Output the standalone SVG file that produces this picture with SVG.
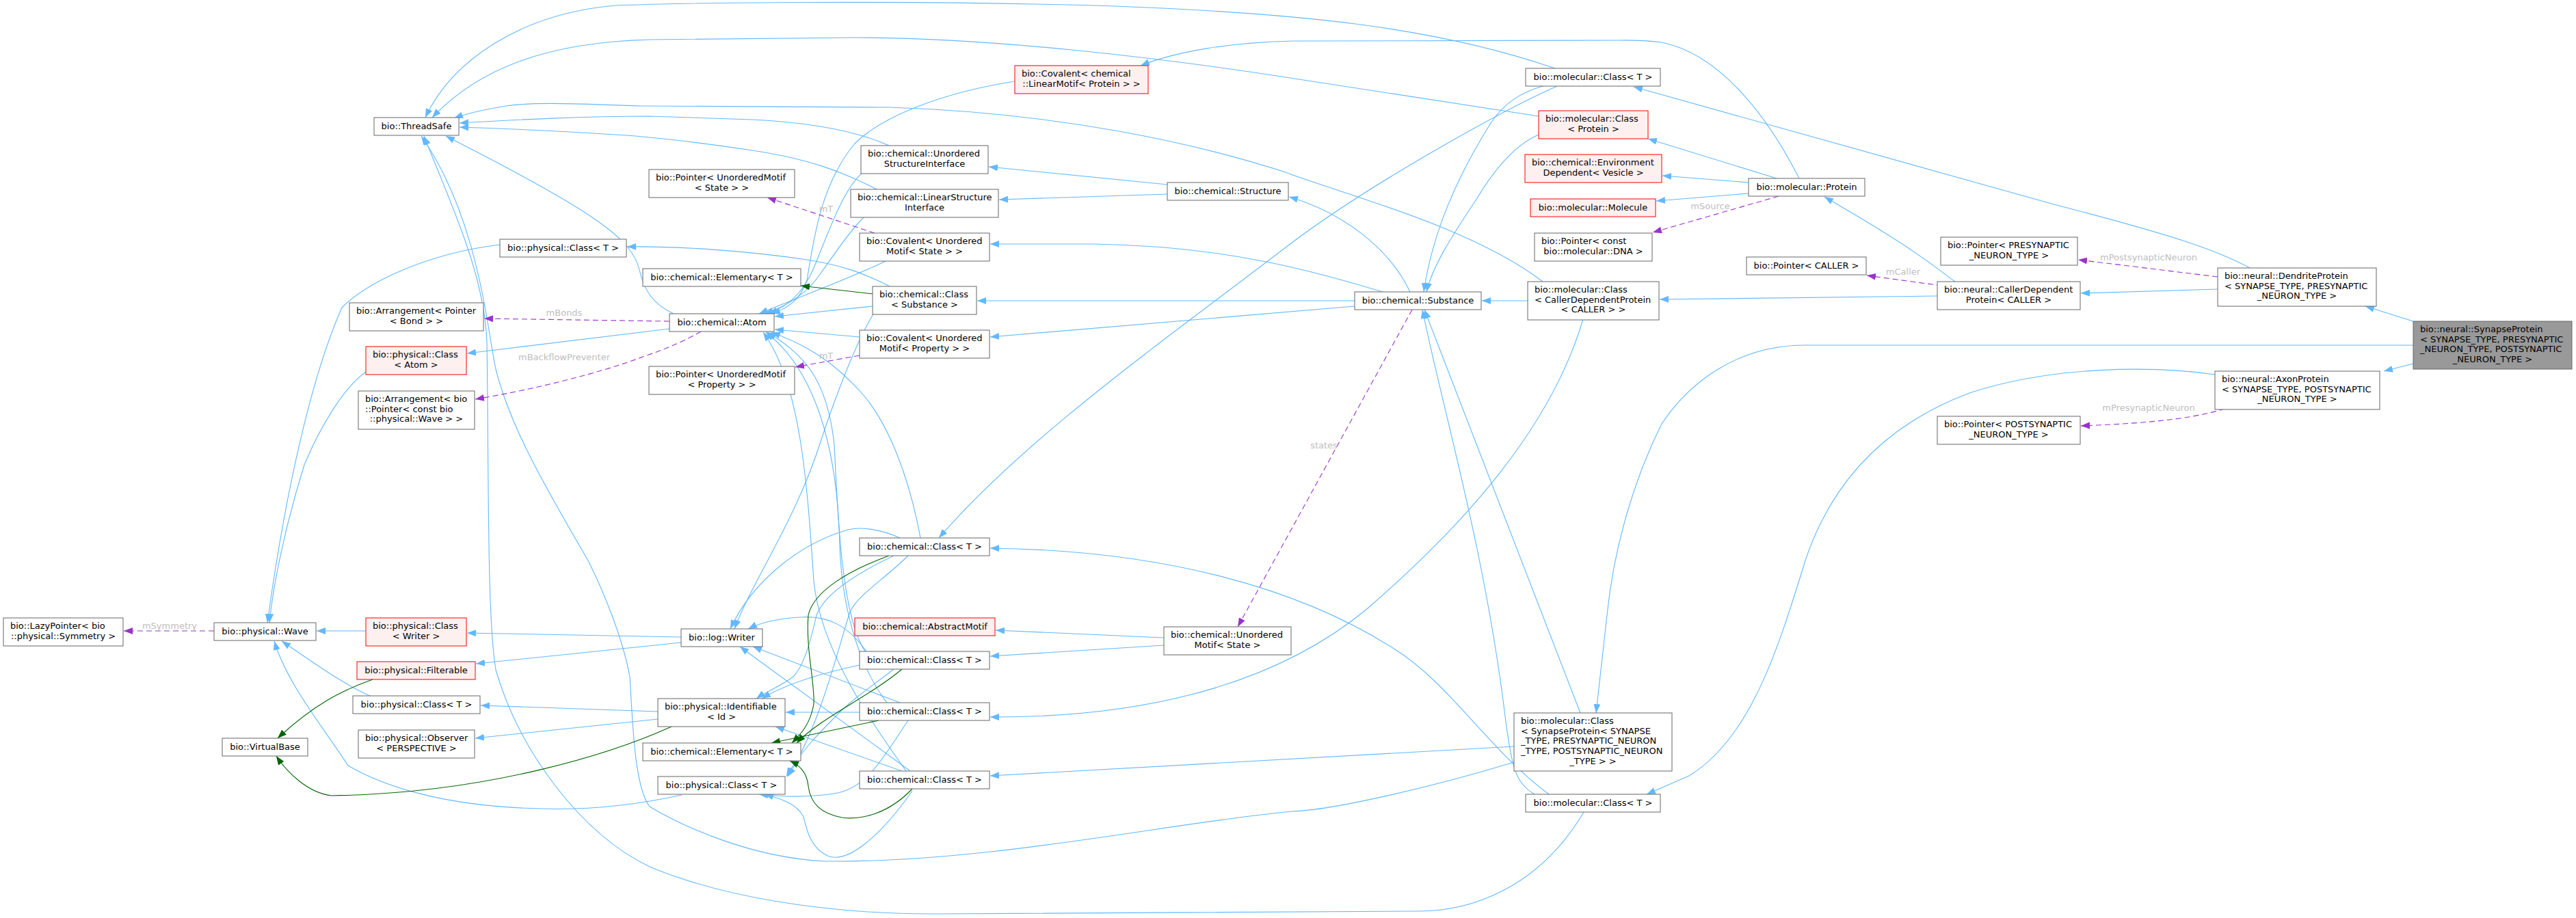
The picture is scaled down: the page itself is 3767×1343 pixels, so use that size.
<svg xmlns="http://www.w3.org/2000/svg" width="3767" height="1343" viewBox="0 0 3767 1343">
<style>
.n rect{fill:#fff;stroke:#666;stroke-width:1}
.r rect{fill:#fff0f0;stroke:#ff0000;stroke-width:1}
.g rect{fill:#999;stroke:#666;stroke-width:1}
text{font-family:"DejaVu Sans",sans-serif;font-size:13px;fill:#000}
.c{text-anchor:middle}
.eb{fill:none;stroke:#63b8ff;stroke-width:1.1;marker-end:url(#ab)}
.eg{fill:none;stroke:#006400;stroke-width:1.1;marker-end:url(#ag)}
.ep{fill:none;stroke:#9a32cd;stroke-width:1.1;stroke-dasharray:8,5;marker-end:url(#ap)}
.lb{fill:#bebebe;text-anchor:middle}
</style>
<defs>
<marker id="ab" markerUnits="userSpaceOnUse" markerWidth="14" markerHeight="10" refX="13" refY="5" orient="auto"><path d="M0,0 L13,5 L0,10 z" fill="#63b8ff"/></marker>
<marker id="ag" markerUnits="userSpaceOnUse" markerWidth="14" markerHeight="10" refX="13" refY="5" orient="auto"><path d="M0,0 L13,5 L0,10 z" fill="#006400"/></marker>
<marker id="ap" markerUnits="userSpaceOnUse" markerWidth="14" markerHeight="10" refX="13" refY="5" orient="auto"><path d="M0,0 L13,5 L0,10 z" fill="#9a32cd"/></marker>
</defs>
<rect width="3767" height="1343" fill="#fff"/>
<g id="edges">
<path class="eb" d="M2274,100 C2100,40 1900,18 1600,8 C1300,0 1000,4 900,8 C760,20 660,90 622,172"/>
<path class="eb" d="M2250,170 L1880,113 C1700,85 1450,55 1250,55 L950,58 C800,62 700,100 632,172"/>
<path class="eb" d="M2256,412 C2150,330 1950,280 1880,252 C1750,210 1550,165 1300,157 L940,155 C860,153 790,148 740,155 C710,160 685,165 664,173"/>
<path class="eb" d="M1300,213 C1260,195 1200,180 1100,175 L950,170 C850,170 760,175 672,180"/>
<path class="eb" d="M1282,277 C1230,250 1180,232 1100,220 C1020,208 950,200 900,197 C820,192 740,188 672,186"/>
<path class="eb" d="M985,459 C955,445 942,425 935,395 C925,350 870,310 652,199"/>
<path class="eb" d="M2316,1188 C2250,1300 2150,1333 2074,1333 L1364,1337 C1200,1337 1050,1310 950,1268 C850,1220 760,1100 725,980 C712,900 715,700 712,500 C708,400 660,300 620,199"/>
<path class="eb" d="M2214,1115 C2100,1150 1950,1185 1890,1187 C1700,1205 1450,1262 1207,1260 C1100,1255 1000,1210 950,1180 C927,1150 925,1050 921,990 C910,930 880,860 860,820 C790,700 745,620 725,540 C712,480 700,320 616,199"/>
<path class="eb" d="M2277,126 C2200,160 2000,270 1880,362 C1700,500 1500,640 1373,787"/>
<path class="eb" d="M2256,126 C2225,135 2200,150 2180,180 C2130,260 2095,340 2082,427"/>
<path class="eb" d="M2250,197 C2220,210 2190,240 2160,290 C2120,350 2095,390 2086,427"/>
<path class="eb" d="M2598,261 L2410,203"/>
<path class="eb" d="M2557,267 L2431,257"/>
<path class="eb" d="M2557,283 L2422,294"/>
<path class="eb" d="M2631,261 C2590,180 2520,80 2430,62 C2400,58 2380,59 2360,59 L1890,60 C1800,62 1720,75 1668,96"/>
<path class="eb" d="M2859,412 C2835,395 2810,370 2668,288"/>
<path class="eb" d="M2833,433 L2427,438"/>
<path class="eb" d="M3243,423 L3043,429"/>
<path class="eb" d="M3290,392 C3240,365 3180,345 3000,298 L2389,127"/>
<path class="eb" d="M3529,470 L3459,448"/>
<path class="eb" d="M3529,532 L3486,543"/>
<path class="eb" d="M3529,505 L2640,505 C2540,505 2470,560 2430,620 C2390,700 2360,800 2350,900 L2334,1043"/>
<path class="eb" d="M3239,548 C3150,535 3000,535 2880,575 C2760,620 2680,700 2640,820 C2600,950 2560,1080 2470,1135 L2408,1162"/>
<path class="eb" d="M2234,440 L2167,440"/>
<path class="eb" d="M2315,467 C2270,620 2150,760 2000,890 C1880,990 1700,1050 1448,1049"/>
<path class="eb" d="M2062,427 C2030,360 1960,310 1885,288"/>
<path class="eb" d="M2022,427 C1930,400 1800,360 1600,357 L1448,357"/>
<path class="eb" d="M1981,440 L1429,440"/>
<path class="eb" d="M1981,448 L1448,493"/>
<path class="eb" d="M2244,1162 C2215,1145 2210,1120 2200,1040 C2170,800 2110,600 2080,453"/>
<path class="eb" d="M2311,1043 L2083,453"/>
<path class="eb" d="M2265,1162 C2180,1100 2120,1000 2040,950 C1900,860 1700,805 1448,802"/>
<path class="eb" d="M2214,1092 L1448,1135"/>
<path class="eb" d="M1702,933 L1456,922"/>
<path class="eb" d="M1702,944 L1448,960"/>
<path class="eb" d="M1707,270 L1446,244"/>
<path class="eb" d="M1707,284 L1461,292"/>
<path class="eb" d="M979,481 L683,517"/>
<path class="eb" d="M731,358 C630,370 540,410 500,450 C460,540 420,700 391,911"/>
<path class="eb" d="M535,544 C505,565 470,620 445,680 C420,760 400,850 394,911"/>
<path class="eb" d="M535,923 L463,923"/>
<path class="eb" d="M541,1018 C500,1000 460,970 412,938"/>
<path class="eb" d="M997,1163 C920,1180 850,1185 790,1183 C650,1180 560,1150 509,1120 C470,1060 420,1000 401,938"/>
<path class="eb" d="M996,932 L683,926"/>
<path class="eb" d="M996,940 L696,971"/>
<path class="eb" d="M962,1041 L703,1032"/>
<path class="eb" d="M962,1052 L695,1080"/>
<path class="eb" d="M1301,419 C1260,398 1230,388 1180,380 C1100,368 1000,360 917,361"/>
<path class="eb" d="M1276,448 L1133,463"/>
<path class="eb" d="M1257,493 L1133,482"/>
<path class="eb" d="M1484,119 C1380,135 1290,170 1250,210 C1200,270 1190,350 1180,410 C1170,440 1150,452 1128,459"/>
<path class="eb" d="M1261,253 C1235,275 1215,330 1195,380 C1180,420 1160,445 1124,459"/>
<path class="eb" d="M1264,317 C1240,340 1215,380 1200,400 C1180,430 1150,448 1118,459"/>
<path class="eb" d="M1297,381 C1260,400 1180,430 1110,459"/>
<path class="eb" d="M1346,787 C1330,700 1300,620 1260,575 C1220,530 1180,505 1128,486"/>
<path class="eb" d="M1316,787 C1290,775 1260,770 1240,775 C1170,795 1100,850 1068,920"/>
<path class="eb" d="M1307,813 C1250,840 1205,870 1194,900 C1185,940 1175,975 1160,990 C1140,1005 1120,1012 1106,1022"/>
<path class="eb" d="M1328,813 C1290,850 1255,870 1243,895 C1225,950 1200,1060 1152,1136"/>
<path class="eb" d="M1267,953 C1240,915 1210,900 1170,903 C1135,905 1110,912 1094,920"/>
<path class="eb" d="M1257,973 C1200,985 1150,1000 1114,1022"/>
<path class="eb" d="M1307,979 C1280,1000 1250,1020 1230,1040 C1200,1070 1170,1100 1150,1136"/>
<path class="eb" d="M1265,953 C1230,900 1225,750 1220,650 C1210,560 1180,520 1122,486"/>
<path class="eb" d="M1257,1042 L1149,1042"/>
<path class="eb" d="M1316,1028 L1101,946"/>
<path class="eb" d="M1328,1054 C1290,1110 1270,1150 1225,1160 C1180,1168 1140,1165 1110,1162"/>
<path class="eb" d="M1297,1028 C1260,980 1232,900 1228,800 C1225,650 1190,540 1120,486"/>
<path class="eb" d="M1319,1128 L1134,1063"/>
<path class="eb" d="M1331,1128 L1082,946"/>
<path class="eb" d="M1334,1157 C1290,1220 1240,1265 1210,1252 C1185,1240 1180,1215 1175,1195 C1165,1175 1140,1168 1118,1162"/>
<path class="eb" d="M1325,1128 C1270,1050 1200,950 1190,850 C1180,700 1170,560 1116,486"/>
<path class="eb" d="M1278,458 C1252,500 1222,580 1202,640 C1165,760 1100,850 1074,920"/>
<path class="eg" d="M1276,430 L1171,418"/>
<path class="eg" d="M1300,813 C1240,835 1190,865 1182,900 C1178,950 1192,1000 1190,1030 C1185,1060 1170,1075 1158,1087"/>
<path class="eg" d="M1319,979 C1270,1020 1200,1050 1165,1087"/>
<path class="eg" d="M1285,1054 L1128,1087"/>
<path class="eg" d="M1334,1154 C1300,1190 1260,1200 1231,1196 C1200,1190 1185,1175 1182,1150 C1180,1130 1170,1120 1155,1113"/>
<path class="eg" d="M545,994 C500,1010 460,1030 406,1080"/>
<path class="eg" d="M982,1063 C900,1100 720,1160 485,1164 C450,1160 420,1130 404,1106"/>
<path class="ep" d="M979,470 L708,466"/>
<path class="ep" d="M1025,485 C990,505 960,515 940,522 C880,545 780,570 695,584"/>
<path class="ep" d="M313,923 L181,923"/>
<path class="ep" d="M1279,341 L1122,289"/>
<path class="ep" d="M1257,520 L1163,537"/>
<path class="ep" d="M2065,453 L1810,917"/>
<path class="ep" d="M2601,287 L2417,340"/>
<path class="ep" d="M2840,418 L2730,403"/>
<path class="ep" d="M3243,405 L3039,380"/>
<path class="ep" d="M3253,598 C3200,615 3120,620 3043,623"/>
<text class="lb" x="825" y="462">mBonds</text>
<text class="lb" x="825" y="527">mBackflowPreventer</text>
<text class="lb" x="248" y="920">mSymmetry</text>
<text class="lb" x="1208" y="310">mT</text>
<text class="lb" x="1208" y="525">mT</text>
<text class="lb" x="1936" y="656">states</text>
<text class="lb" x="2501" y="306">mSource</text>
<text class="lb" x="2783" y="402">mCaller</text>
<text class="lb" x="3142" y="381">mPostsynapticNeuron</text>
<text class="lb" x="3142" y="601">mPresynapticNeuron</text>
</g>
<g id="ThreadSafe" class="n"><rect x="547" y="172" width="124" height="26"/><text class="c" x="609" y="189">bio::ThreadSafe</text></g>
<g id="physClassT_A" class="n"><rect x="731" y="350" width="185" height="26"/><text class="c" x="823.5" y="367">bio::physical::Class&lt; T &gt;</text></g>
<g id="ArrangementBond" class="n"><rect x="511" y="443" width="196" height="41"/><text x="521" y="459">bio::Arrangement&lt; Pointer</text><text class="c" x="609" y="473.7">&lt; Bond &gt; &gt;</text></g>
<g id="physClassAtom" class="r"><rect x="535" y="507" width="147" height="41"/><text x="545" y="523">bio::physical::Class</text><text class="c" x="608.5" y="537.7">&lt; Atom &gt;</text></g>
<g id="ArrangementWave" class="n"><rect x="524" y="572" width="170" height="56"/><text x="534" y="588">bio::Arrangement&lt; bio</text><text x="534" y="602.7">::Pointer&lt; const bio</text><text class="c" x="609" y="617.4">::physical::Wave &gt; &gt;</text></g>
<g id="LazyPointer" class="n"><rect x="5" y="904" width="175" height="41"/><text x="15" y="920">bio::LazyPointer&lt; bio</text><text class="c" x="92.5" y="934.7">::physical::Symmetry &gt;</text></g>
<g id="Wave" class="n"><rect x="313" y="911" width="149" height="26"/><text class="c" x="387.5" y="928">bio::physical::Wave</text></g>
<g id="physClassWriter" class="r"><rect x="535" y="904" width="147" height="41"/><text x="545" y="920">bio::physical::Class</text><text class="c" x="608.5" y="934.7">&lt; Writer &gt;</text></g>
<g id="Filterable" class="r"><rect x="522" y="968" width="173" height="26"/><text class="c" x="608.5" y="985">bio::physical::Filterable</text></g>
<g id="physClassT_B" class="n"><rect x="516" y="1018" width="186" height="26"/><text class="c" x="609" y="1035">bio::physical::Class&lt; T &gt;</text></g>
<g id="Observer" class="n"><rect x="524" y="1068" width="170" height="41"/><text x="534" y="1084">bio::physical::Observer</text><text class="c" x="609" y="1098.7">&lt; PERSPECTIVE &gt;</text></g>
<g id="VirtualBase" class="n"><rect x="325" y="1080" width="125" height="26"/><text class="c" x="387.5" y="1097">bio::VirtualBase</text></g>
<g id="CovalentLinearMotif" class="r"><rect x="1484" y="96" width="195" height="41"/><text x="1494" y="112">bio::Covalent&lt; chemical</text><text class="c" x="1581.5" y="126.7">::LinearMotif&lt; Protein &gt; &gt;</text></g>
<g id="UnorderedStructureInterface" class="n"><rect x="1259" y="213" width="186" height="41"/><text x="1269" y="229">bio::chemical::Unordered</text><text class="c" x="1352" y="243.7">StructureInterface</text></g>
<g id="PointerUMState" class="n"><rect x="949" y="248" width="213" height="41"/><text x="959" y="264">bio::Pointer&lt; UnorderedMotif</text><text class="c" x="1055.5" y="278.7">&lt; State &gt; &gt;</text></g>
<g id="LinearStructureInterface" class="n"><rect x="1244" y="277" width="216" height="41"/><text x="1254" y="293">bio::chemical::LinearStructure</text><text class="c" x="1352" y="307.7">Interface</text></g>
<g id="Structure" class="n"><rect x="1707" y="267" width="177" height="26"/><text class="c" x="1795.5" y="284">bio::chemical::Structure</text></g>
<g id="CovalentUMState" class="n"><rect x="1257" y="341" width="190" height="41"/><text x="1267" y="357">bio::Covalent&lt; Unordered</text><text class="c" x="1352" y="371.7">Motif&lt; State &gt; &gt;</text></g>
<g id="ElementaryA" class="n"><rect x="940" y="393" width="231" height="26"/><text class="c" x="1055.5" y="410">bio::chemical::Elementary&lt; T &gt;</text></g>
<g id="ClassSubstance" class="n"><rect x="1276" y="419" width="152" height="41"/><text x="1286" y="435">bio::chemical::Class</text><text class="c" x="1352" y="449.7">&lt; Substance &gt;</text></g>
<g id="Atom" class="n"><rect x="979" y="459" width="153" height="26"/><text class="c" x="1055.5" y="476">bio::chemical::Atom</text></g>
<g id="CovalentUMProperty" class="n"><rect x="1257" y="483" width="190" height="41"/><text x="1267" y="499">bio::Covalent&lt; Unordered</text><text class="c" x="1352" y="513.7">Motif&lt; Property &gt; &gt;</text></g>
<g id="PointerUMProperty" class="n"><rect x="949" y="536" width="213" height="41"/><text x="959" y="552">bio::Pointer&lt; UnorderedMotif</text><text class="c" x="1055.5" y="566.7">&lt; Property &gt; &gt;</text></g>
<g id="chemClassT_A" class="n"><rect x="1257" y="787" width="190" height="26"/><text class="c" x="1352" y="804">bio::chemical::Class&lt; T &gt;</text></g>
<g id="Writer" class="n"><rect x="996" y="920" width="119" height="26"/><text class="c" x="1055.5" y="937">bio::log::Writer</text></g>
<g id="AbstractMotif" class="r"><rect x="1250" y="904" width="205" height="26"/><text class="c" x="1352.5" y="921">bio::chemical::AbstractMotif</text></g>
<g id="UnorderedMotifState" class="n"><rect x="1702" y="917" width="186" height="41"/><text x="1712" y="933">bio::chemical::Unordered</text><text class="c" x="1795" y="947.7">Motif&lt; State &gt;</text></g>
<g id="chemClassT_B" class="n"><rect x="1257" y="953" width="190" height="26"/><text class="c" x="1352" y="970">bio::chemical::Class&lt; T &gt;</text></g>
<g id="Identifiable" class="n"><rect x="962" y="1022" width="186" height="41"/><text x="972" y="1038">bio::physical::Identifiable</text><text class="c" x="1055" y="1052.7">&lt; Id &gt;</text></g>
<g id="chemClassT_C" class="n"><rect x="1257" y="1028" width="190" height="26"/><text class="c" x="1352" y="1045">bio::chemical::Class&lt; T &gt;</text></g>
<g id="ElementaryB" class="n"><rect x="940" y="1087" width="231" height="26"/><text class="c" x="1055.5" y="1104">bio::chemical::Elementary&lt; T &gt;</text></g>
<g id="physClassT_C" class="n"><rect x="962" y="1136" width="186" height="26"/><text class="c" x="1055" y="1153">bio::physical::Class&lt; T &gt;</text></g>
<g id="chemClassT_D" class="n"><rect x="1257" y="1128" width="190" height="26"/><text class="c" x="1352" y="1145">bio::chemical::Class&lt; T &gt;</text></g>
<g id="molClassT_A" class="n"><rect x="2231" y="100" width="197" height="26"/><text class="c" x="2329.5" y="117">bio::molecular::Class&lt; T &gt;</text></g>
<g id="molClassProtein" class="r"><rect x="2250" y="162" width="160" height="41"/><text x="2260" y="178">bio::molecular::Class</text><text class="c" x="2330" y="192.7">&lt; Protein &gt;</text></g>
<g id="EnvDependent" class="r"><rect x="2230" y="226" width="200" height="41"/><text x="2240" y="242">bio::chemical::Environment</text><text class="c" x="2330" y="256.7">Dependent&lt; Vesicle &gt;</text></g>
<g id="Molecule" class="r"><rect x="2238" y="291" width="183" height="26"/><text class="c" x="2329.5" y="308">bio::molecular::Molecule</text></g>
<g id="Protein" class="n"><rect x="2557" y="261" width="170" height="26"/><text class="c" x="2642" y="278">bio::molecular::Protein</text></g>
<g id="PointerDNA" class="n"><rect x="2244" y="341" width="172" height="41"/><text x="2254" y="357">bio::Pointer&lt; const</text><text class="c" x="2330" y="371.7">bio::molecular::DNA &gt;</text></g>
<g id="PointerCaller" class="n"><rect x="2554" y="376" width="175" height="26"/><text class="c" x="2641.5" y="393">bio::Pointer&lt; CALLER &gt;</text></g>
<g id="Substance" class="n"><rect x="1981" y="427" width="185" height="26"/><text class="c" x="2073.5" y="444">bio::chemical::Substance</text></g>
<g id="molClassCallerDep" class="n"><rect x="2234" y="412" width="192" height="56"/><text x="2244" y="428">bio::molecular::Class</text><text x="2244" y="442.7">&lt; CallerDependentProtein</text><text class="c" x="2330" y="457.4">&lt; CALLER &gt; &gt;</text></g>
<g id="PointerPre" class="n"><rect x="2838" y="347" width="200" height="41"/><text x="2848" y="363">bio::Pointer&lt; PRESYNAPTIC</text><text class="c" x="2938" y="377.7">_NEURON_TYPE &gt;</text></g>
<g id="CallerDependentProtein" class="n"><rect x="2833" y="412" width="209" height="41"/><text x="2843" y="428">bio::neural::CallerDependent</text><text class="c" x="2937.5" y="442.7">Protein&lt; CALLER &gt;</text></g>
<g id="Dendrite" class="n"><rect x="3243" y="392" width="232" height="56"/><text x="3253" y="408">bio::neural::DendriteProtein</text><text x="3253" y="422.7">&lt; SYNAPSE_TYPE, PRESYNAPTIC</text><text class="c" x="3359" y="437.4">_NEURON_TYPE &gt;</text></g>
<g id="Synapse" class="g"><rect x="3529" y="470" width="232" height="70"/><text x="3539" y="486">bio::neural::SynapseProtein</text><text x="3539" y="500.7">&lt; SYNAPSE_TYPE, PRESYNAPTIC</text><text x="3539" y="515.4">_NEURON_TYPE, POSTSYNAPTIC</text><text class="c" x="3645" y="530.1">_NEURON_TYPE &gt;</text></g>
<g id="Axon" class="n"><rect x="3239" y="543" width="241" height="56"/><text x="3249" y="559">bio::neural::AxonProtein</text><text x="3249" y="573.7">&lt; SYNAPSE_TYPE, POSTSYNAPTIC</text><text class="c" x="3359.5" y="588.4">_NEURON_TYPE &gt;</text></g>
<g id="PointerPost" class="n"><rect x="2833" y="609" width="209" height="41"/><text x="2843" y="625">bio::Pointer&lt; POSTSYNAPTIC</text><text class="c" x="2937.5" y="639.7">_NEURON_TYPE &gt;</text></g>
<g id="molClassSynapse" class="n"><rect x="2214" y="1043" width="231" height="85"/><text x="2224" y="1059">bio::molecular::Class</text><text x="2224" y="1073.7">&lt; SynapseProtein&lt; SYNAPSE</text><text x="2224" y="1088.4">_TYPE, PRESYNAPTIC_NEURON</text><text x="2224" y="1103.1">_TYPE, POSTSYNAPTIC_NEURON</text><text class="c" x="2329.5" y="1117.8">_TYPE &gt; &gt;</text></g>
<g id="molClassT_B" class="n"><rect x="2231" y="1162" width="197" height="26"/><text class="c" x="2329.5" y="1179">bio::molecular::Class&lt; T &gt;</text></g>
</svg>
